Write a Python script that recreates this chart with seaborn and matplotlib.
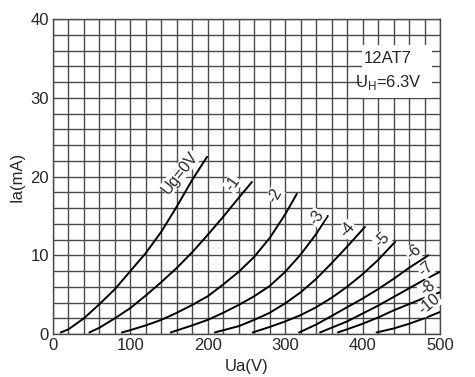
import pandas as pd
import seaborn as sns
import matplotlib.pyplot as plt
from matplotlib.ticker import MultipleLocator
from matplotlib.patches import Rectangle

# plate characteristics: Ua in V, Ia in mA
ua_0 = [10, 20, 40, 60, 80, 100, 120, 140, 160, 180, 199]
ia_0 = [0.2, 0.6, 2.0, 3.8, 5.7, 8.0, 10.3, 13.0, 16.2, 19.6, 22.5]
ua_1 = [47, 60, 80, 100, 120, 140, 160, 180, 200, 220, 240, 257]
ia_1 = [0.2, 0.8, 2.0, 3.3, 4.9, 6.6, 8.4, 10.4, 12.6, 14.9, 17.3, 19.3]
ua_2 = [89, 100, 120, 140, 160, 180, 200, 220, 240, 260, 280, 300, 315]
ia_2 = [0.2, 0.5, 1.1, 1.8, 2.7, 3.7, 4.8, 6.3, 7.9, 9.8, 12.2, 15.2, 17.8]
ua_3 = [152, 180, 200, 220, 240, 260, 280, 300, 320, 340, 355]
ia_3 = [0.2, 1.1, 1.8, 2.7, 3.7, 4.8, 6.1, 7.9, 10.1, 12.7, 15.0]
ua_4 = [209, 240, 260, 280, 300, 320, 340, 360, 380, 403]
ia_4 = [0.2, 1.0, 1.8, 2.7, 3.9, 5.3, 7.0, 9.0, 11.1, 13.6]
ua_5 = [258, 280, 300, 320, 340, 360, 380, 400, 420, 442]
ia_5 = [0.2, 0.9, 1.6, 2.4, 3.4, 4.6, 6.0, 7.6, 9.4, 11.7]
ua_6 = [318, 340, 360, 380, 400, 420, 440, 460, 485]
ia_6 = [0.2, 1.2, 2.3, 3.4, 4.5, 5.7, 7.0, 8.4, 10.0]
ua_7 = [345, 360, 380, 400, 420, 440, 460, 480, 500]
ia_7 = [0.2, 0.8, 1.6, 2.6, 3.6, 4.7, 5.8, 6.9, 7.9]
ua_8 = [368, 380, 400, 420, 440, 460, 480, 500]
ia_8 = [0.2, 0.6, 1.3, 2.1, 3.0, 3.8, 4.6, 5.3]
ua_10 = [418, 440, 460, 480, 500]
ia_10 = [0.2, 0.7, 1.3, 2.0, 2.8]

curve_names = ["Ug=0V", "-1", "-2", "-3", "-4", "-5", "-6", "-7", "-8", "-10"]
curve_ua = [ua_0, ua_1, ua_2, ua_3, ua_4, ua_5, ua_6, ua_7, ua_8, ua_10]
curve_ia = [ia_0, ia_1, ia_2, ia_3, ia_4, ia_5, ia_6, ia_7, ia_8, ia_10]

# where each grid-voltage label sits and how it is turned
label_x = [164, 232, 287, 340, 381, 425, 466, 482, 484, 486]
label_y = [20.5, 19.1, 17.6, 14.8, 13.3, 12.0, 10.4, 8.3, 5.8, 3.8]
label_rot = [52, 55, 60, 55, 50, 45, 40, 40, 40, 40]

rows = []
for name, ua, ia in zip(curve_names, curve_ua, curve_ia):
    for u, i in zip(ua, ia):
        rows.append({"Ua": u, "Ia": i, "Ug": name})
df = pd.DataFrame(rows)

sns.set_style("white")
plt.rcParams['font.family'] = ['Liberation Sans', 'DejaVu Sans']
plt.rcParams['mathtext.fontset'] = 'custom'
plt.rcParams['mathtext.rm'] = 'Liberation Sans'

fig = plt.figure(figsize=(4.75, 3.77), dpi=100)
ax = fig.add_axes([0.1116, 0.114, 0.8147, 0.8355])

sns.lineplot(data=df, x="Ua", y="Ia", hue="Ug", units="Ug", estimator=None,
             sort=False, palette=["black"] * len(curve_names), legend=False,
             lw=1.4, ax=ax)

ax.set_xlim(0, 500)
ax.set_ylim(0, 40)
ax.xaxis.set_major_locator(MultipleLocator(100))
ax.xaxis.set_minor_locator(MultipleLocator(20))
ax.yaxis.set_major_locator(MultipleLocator(10))
ax.yaxis.set_minor_locator(MultipleLocator(2))
ax.set_axisbelow(True)
ax.grid(which="both", color="#4a4a4a", lw=1.0)
ax.tick_params(which="both", length=0, labelsize=12, pad=3)
for s in ax.spines.values():
    s.set_color("#4a4a4a")
    s.set_linewidth(1.0)
ax.set_xlabel("Ua(V)", fontsize=12)
ax.set_ylabel("Ia(mA)", fontsize=12)

for name, x, y, r in zip(curve_names, label_x, label_y, label_rot):
    ax.text(x, y, name, rotation=r, ha="center", va="center", fontsize=11.5,
            rotation_mode="anchor",
            bbox=dict(fc="white", ec="none", pad=0.3))

ax.add_patch(Rectangle((399, 30.0), 91, 6.7, fc="white", ec="none", zorder=3))
ax.text(433, 35.0, "12AT7", ha="center", va="center", fontsize=12, zorder=4)
ax.text(433, 32.0, r"U$_{\mathregular{H}}$=6.3V", ha="center", va="center",
        fontsize=12, zorder=4)

fig.savefig("out.png", dpi=100)
